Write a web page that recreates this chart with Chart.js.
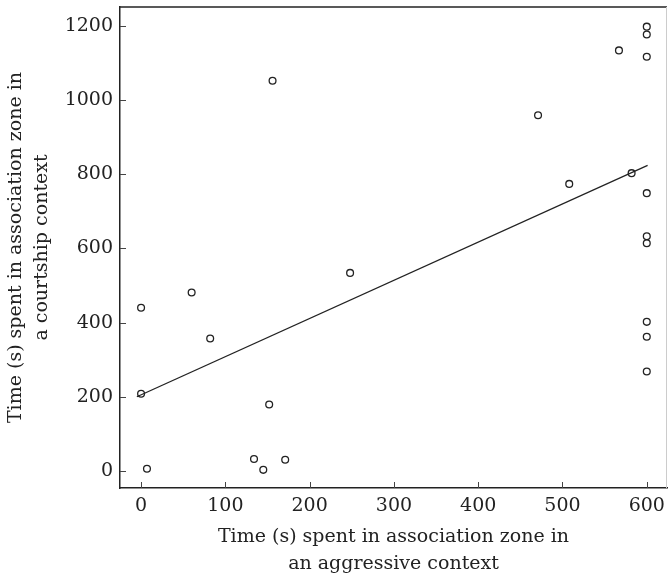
<!DOCTYPE html>
<html>
<head>
<meta charset="utf-8">
<script src="https://cdn.jsdelivr.net/npm/chart.js@4"></script>
<style>
  html, body { margin: 0; padding: 0; background: #fff; overflow: hidden; }
  canvas { display: block; }
</style>
</head>
<body>
<canvas id="myChart" width="668" height="577"></canvas>
<script>
// aggressive context (x) vs courtship context (y), seconds
const aggressive = [0, 60, 82, 0, 152, 7, 134, 145, 171, 156, 248, 471, 508, 567, 582,
  600, 600, 600, 600, 600, 600, 600, 600, 600];
const courtship = [440, 481, 357, 208, 179, 6, 32, 3, 30, 1052, 534, 959, 774, 1134, 803,
  1198, 1177, 1117, 749, 633, 614, 402, 362, 268];

// fitted line end points
const fitX = [-5, 601];
const fitY = [200, 824];

const xTicks = [0, 100, 200, 300, 400, 500, 600];
const yTicks = [0, 200, 400, 600, 800, 1000, 1200];

const ink = '#222';
const font = { family: '"DejaVu Serif", serif', size: 19 };
const titleFont = { family: '"DejaVu Serif", serif', size: 19, lineHeight: 1.387 };

const points = aggressive.map((v, i) => ({ x: v, y: courtship[i] }));
const fit = fitX.map((v, i) => ({ x: v, y: fitY[i] }));

// ticks pointing into the plot, plus the top and right frame
const frame = {
  id: 'frame',
  afterDraw(chart) {
    const { ctx, chartArea: a, scales } = chart;
    ctx.save();
    ctx.strokeStyle = '#444';
    ctx.lineWidth = 1;
    xTicks.forEach(t => {
      const px = Math.round(scales.x.getPixelForValue(t)) + 0.5;
      ctx.beginPath();
      ctx.moveTo(px, a.bottom);
      ctx.lineTo(px, a.bottom - 6);
      ctx.stroke();
    });
    yTicks.forEach(t => {
      const py = Math.round(scales.y.getPixelForValue(t)) + 0.5;
      ctx.beginPath();
      ctx.moveTo(a.left, py);
      ctx.lineTo(a.left + 6, py);
      ctx.stroke();
    });
    ctx.strokeStyle = ink;
    ctx.lineWidth = 1.5;
    ctx.beginPath();
    ctx.moveTo(a.left, a.top);
    ctx.lineTo(a.right, a.top);
    ctx.stroke();
    ctx.strokeStyle = '#ccc';
    ctx.lineWidth = 1;
    ctx.beginPath();
    ctx.moveTo(a.right - 0.5, a.top);
    ctx.lineTo(a.right - 0.5, a.bottom);
    ctx.stroke();
    ctx.restore();
  }
};

const ctx = document.getElementById('myChart');
new Chart(ctx, {
  type: 'scatter',
  data: {
    datasets: [
      {
        data: points,
        pointRadius: 3.4,
        pointBorderWidth: 1.3,
        pointBorderColor: ink,
        pointBackgroundColor: 'transparent'
      },
      {
        type: 'line',
        data: fit,
        showLine: true,
        pointRadius: 0,
        borderColor: ink,
        borderWidth: 1.3,
        fill: false
      }
    ]
  },
  plugins: [frame],
  options: {
    responsive: false,
    animation: false,
    layout: { autoPadding: false, padding: { top: 7, right: 1, left: 0, bottom: 0 } },
    plugins: {
      legend: { display: false },
      tooltip: { enabled: false }
    },
    scales: {
      x: {
        type: 'linear',
        min: -25,
        max: 624,
        afterBuildTicks(scale) { scale.ticks = xTicks.map(v => ({ value: v })); },
        afterFit(scale) {
          scale.height = 89;
          scale.paddingLeft = 0;
          scale.paddingRight = 0;
        },
        grid: { color: 'transparent', drawTicks: false },
        border: { color: ink, width: 1.5 },
        ticks: { color: ink, font: font, padding: 7, maxRotation: 0, callback: v => String(v) },
        title: {
          display: true,
          text: ['Time (s) spent in association zone in', 'an aggressive context'],
          color: ink,
          font: titleFont,
          padding: { top: 4, bottom: 0 }
        }
      },
      y: {
        type: 'linear',
        min: -46,
        max: 1251,
        afterBuildTicks(scale) { scale.ticks = yTicks.map(v => ({ value: v })); },
        afterFit(scale) {
          scale.width = 120;
          scale.paddingTop = 0;
          scale.paddingBottom = 0;
        },
        grid: { color: 'transparent', drawTicks: false },
        border: { color: ink, width: 1.5 },
        ticks: { color: ink, font: font, padding: 7, callback: v => String(v) },
        title: {
          display: true,
          text: ['Time (s) spent in association zone in', 'a courtship context'],
          color: ink,
          font: titleFont,
          padding: { top: 3, bottom: 4 }
        }
      }
    }
  }
});
</script>
</body>
</html>
